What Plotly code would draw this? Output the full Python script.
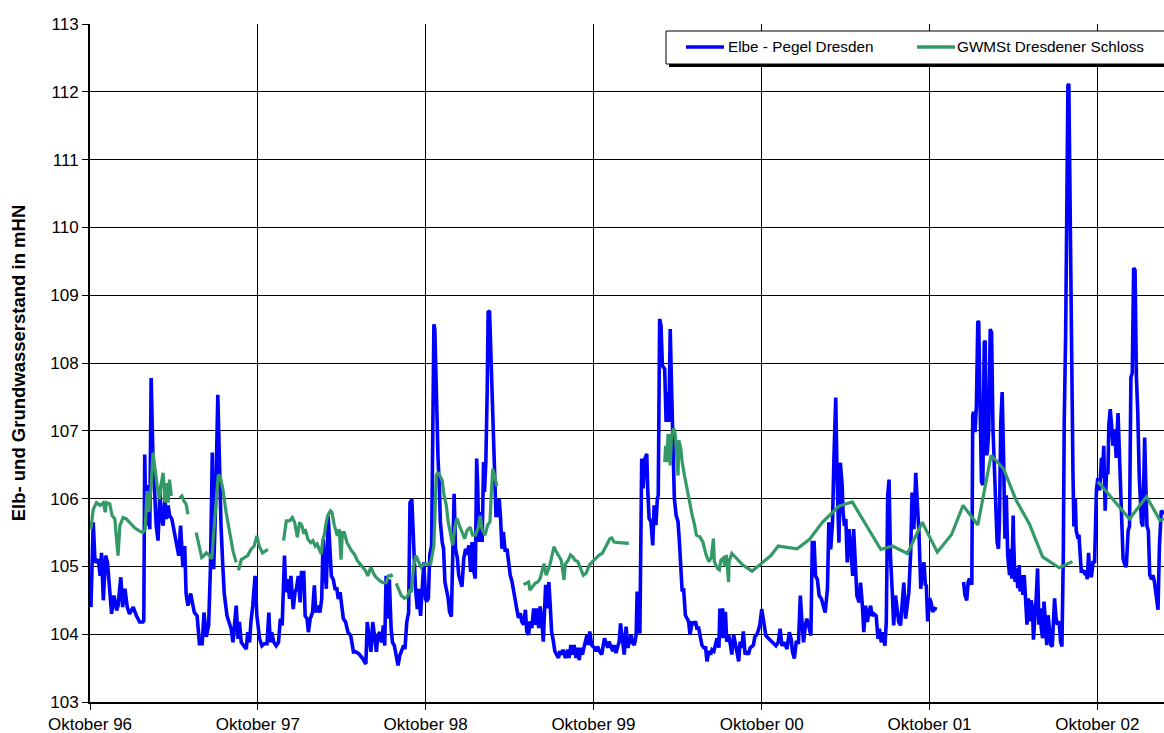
import plotly.graph_objects as go

# ---------------- text ----------------
series_names = ["Elbe - Pegel Dresden", "GWMSt Dresdener Schloss"]
series_colors = ["#0000FF", "#339966"]
y_title = "Elb- und Grundwasserstand in mHN"
x_tick_dates = ["1996-10-01", "1997-10-01", "1998-10-01", "1999-10-01",
                "2000-10-01", "2001-10-01", "2002-10-01"]
x_tick_labels = ["Oktober 96", "Oktober 97", "Oktober 98", "Oktober 99",
                 "Oktober 00", "Oktober 01", "Oktober 02"]
y_ticks = [103, 104, 105, 106, 107, 108, 109, 110, 111, 112, 113]
x_range = ["1996-10-01", "2003-02-23"]
y_range = [103, 113]

# ---------------- Elbe - Pegel Dresden (date, m HN) ----------------
elbe_1996_97 = [
    ("1996-10-03", 104.40), ("1996-10-08", 105.65), ("1996-10-12", 105.06), ("1996-10-19", 105.10),
    ("1996-10-23", 104.86), ("1996-10-26", 105.20), ("1996-10-30", 104.50), ("1996-11-04", 105.16),
    ("1996-11-08", 105.06), ("1996-11-13", 104.67), ("1996-11-17", 104.30), ("1996-11-22", 104.57),
    ("1996-11-28", 104.35), ("1996-12-01", 104.42), ("1996-12-07", 104.84), ("1996-12-11", 104.40),
    ("1996-12-16", 104.67), ("1996-12-21", 104.40), ("1996-12-26", 104.30), ("1997-01-03", 104.40),
    ("1997-01-10", 104.27), ("1997-01-17", 104.18), ("1997-01-24", 104.18), ("1997-01-26", 104.20),
    ("1997-01-28", 106.65), ("1997-01-31", 105.60), ("1997-02-04", 106.20), ("1997-02-08", 105.55),
    ("1997-02-11", 107.78), ("1997-02-15", 106.60), ("1997-02-19", 106.00), ("1997-02-22", 105.60),
    ("1997-02-26", 105.38), ("1997-03-02", 106.10), ("1997-03-05", 105.75), ("1997-03-09", 105.60),
    ("1997-03-13", 106.00), ("1997-03-16", 105.70), ("1997-03-20", 105.90), ("1997-03-23", 105.75),
    ("1997-03-28", 105.70), ("1997-04-02", 105.50), ("1997-04-07", 105.30), ("1997-04-12", 105.16),
    ("1997-04-16", 105.60), ("1997-04-21", 104.99), ("1997-04-25", 105.30), ("1997-04-28", 104.60),
    ("1997-05-02", 104.42), ("1997-05-08", 104.60), ("1997-05-13", 104.42), ("1997-05-16", 104.32),
    ("1997-05-22", 104.27), ("1997-05-27", 103.86), ("1997-06-02", 103.86), ("1997-06-06", 104.32),
    ("1997-06-11", 103.96), ("1997-06-16", 104.13), ("1997-06-20", 104.99), ("1997-06-24", 106.68),
    ("1997-06-27", 104.96), ("1997-07-01", 105.84), ("1997-07-06", 107.53), ("1997-07-09", 106.60),
    ("1997-07-13", 105.60), ("1997-07-17", 104.99), ("1997-07-20", 104.60), ("1997-07-26", 104.27),
    ("1997-08-01", 104.13), ("1997-08-04", 104.08), ("1997-08-08", 103.88), ("1997-08-12", 104.13),
    ("1997-08-15", 104.42), ("1997-08-19", 103.93), ("1997-08-22", 104.18), ("1997-08-26", 103.88),
    ("1997-09-01", 103.83), ("1997-09-06", 103.78), ("1997-09-09", 104.03), ("1997-09-13", 103.88),
    ("1997-09-16", 104.18), ("1997-09-20", 104.42), ("1997-09-25", 104.86), ("1997-09-29", 104.27),
]
elbe_1997_98 = [
    ("1997-10-05", 103.93), ("1997-10-10", 103.83), ("1997-10-15", 103.86), ("1997-10-21", 103.86),
    ("1997-10-25", 104.32), ("1997-10-28", 103.88), ("1997-10-31", 104.03), ("1997-11-05", 103.88),
    ("1997-11-10", 103.83), ("1997-11-15", 103.88), ("1997-11-19", 104.23), ("1997-11-23", 104.13),
    ("1997-11-28", 105.16), ("1997-12-01", 104.62), ("1997-12-05", 104.81), ("1997-12-09", 104.52),
    ("1997-12-12", 104.86), ("1997-12-17", 104.37), ("1997-12-21", 104.62), ("1997-12-24", 104.67),
    ("1997-12-28", 104.86), ("1998-01-01", 104.47), ("1998-01-04", 104.91), ("1998-01-09", 104.91),
    ("1998-01-12", 104.27), ("1998-01-16", 104.23), ("1998-01-19", 104.03), ("1998-01-23", 104.23),
    ("1998-01-28", 104.32), ("1998-02-01", 104.72), ("1998-02-04", 104.32), ("1998-02-08", 104.42),
    ("1998-02-13", 104.32), ("1998-02-17", 104.52), ("1998-02-20", 105.40), ("1998-02-24", 104.91),
    ("1998-02-27", 104.67), ("1998-03-03", 105.75), ("1998-03-07", 105.30), ("1998-03-10", 104.86),
    ("1998-03-14", 104.81), ("1998-03-18", 104.67), ("1998-03-22", 104.67), ("1998-03-25", 104.52),
    ("1998-03-29", 104.62), ("1998-04-02", 104.40), ("1998-04-05", 104.23), ("1998-04-10", 104.18),
    ("1998-04-15", 104.03), ("1998-04-21", 103.98), ("1998-04-27", 103.74), ("1998-05-02", 103.74),
    ("1998-05-09", 103.71), ("1998-05-17", 103.64), ("1998-05-24", 103.56), ("1998-05-27", 104.18),
    ("1998-05-31", 103.98), ("1998-06-04", 103.74), ("1998-06-08", 104.18), ("1998-06-12", 103.98),
    ("1998-06-16", 103.74), ("1998-06-19", 103.98), ("1998-06-23", 104.03), ("1998-06-27", 103.88),
    ("1998-07-01", 104.13), ("1998-07-04", 103.83), ("1998-07-07", 104.86), ("1998-07-11", 104.23),
    ("1998-07-14", 104.81), ("1998-07-18", 104.08), ("1998-07-21", 103.88), ("1998-07-25", 103.83),
    ("1998-07-28", 103.69), ("1998-08-02", 103.54), ("1998-08-06", 103.69), ("1998-08-10", 103.78),
    ("1998-08-14", 103.83), ("1998-08-17", 103.78), ("1998-08-21", 104.18), ("1998-08-25", 104.32),
    ("1998-08-28", 105.94), ("1998-09-01", 105.99), ("1998-09-04", 105.35), ("1998-09-09", 104.67),
    ("1998-09-13", 104.37), ("1998-09-16", 104.67), ("1998-09-20", 104.27), ("1998-09-23", 104.67),
    ("1998-09-27", 105.06), ("1998-10-01", 104.52),
]
elbe_1998_99 = [
    ("1998-10-03", 104.48), ("1998-10-07", 104.53), ("1998-10-10", 105.17), ("1998-10-14", 105.31),
    ("1998-10-17", 108.35), ("1998-10-19", 108.57), ("1998-10-21", 108.50), ("1998-10-24", 107.37),
    ("1998-10-26", 106.69), ("1998-10-28", 106.59), ("1998-10-31", 106.15), ("1998-11-02", 105.66),
    ("1998-11-06", 105.36), ("1998-11-09", 105.26), ("1998-11-12", 104.77), ("1998-11-15", 104.68),
    ("1998-11-19", 104.53), ("1998-11-22", 104.33), ("1998-11-26", 104.26), ("1998-11-29", 105.17),
    ("1998-12-02", 106.07), ("1998-12-05", 105.26), ("1998-12-09", 105.12), ("1998-12-12", 104.87),
    ("1998-12-16", 104.77), ("1998-12-19", 104.70), ("1998-12-23", 105.12), ("1998-12-27", 105.26),
    ("1998-12-30", 105.17), ("1999-01-03", 105.31), ("1999-01-07", 104.92), ("1999-01-10", 105.36),
    ("1999-01-14", 104.92), ("1999-01-17", 104.82), ("1999-01-20", 106.59), ("1999-01-22", 106.25),
    ("1999-01-25", 105.36), ("1999-01-28", 105.80), ("1999-02-01", 105.36), ("1999-02-04", 106.54),
    ("1999-02-06", 106.10), ("1999-02-09", 106.54), ("1999-02-12", 107.62), ("1999-02-14", 108.75),
    ("1999-02-17", 108.77), ("1999-02-20", 108.11), ("1999-02-24", 107.23), ("1999-02-27", 106.54),
    ("1999-03-03", 105.75), ("1999-03-07", 105.75), ("1999-03-10", 106.00), ("1999-03-13", 105.71),
    ("1999-03-16", 105.26), ("1999-03-19", 105.51), ("1999-03-23", 105.22), ("1999-03-27", 105.26),
    ("1999-03-30", 105.07), ("1999-04-03", 104.87), ("1999-04-07", 104.77), ("1999-04-10", 104.68),
    ("1999-04-14", 104.50), ("1999-04-17", 104.38), ("1999-04-21", 104.24), ("1999-04-25", 104.31),
    ("1999-04-28", 104.19), ("1999-05-02", 104.14), ("1999-05-06", 104.36), ("1999-05-09", 104.04),
    ("1999-05-13", 103.99), ("1999-05-16", 104.19), ("1999-05-20", 104.09), ("1999-05-24", 104.38),
    ("1999-05-27", 104.14), ("1999-05-31", 104.38), ("1999-06-04", 104.09), ("1999-06-07", 104.41),
    ("1999-06-11", 104.19), ("1999-06-14", 103.89), ("1999-06-16", 104.14), ("1999-06-19", 104.73),
    ("1999-06-23", 104.38), ("1999-06-26", 104.77), ("1999-06-29", 104.43), ("1999-07-02", 104.04),
    ("1999-07-06", 103.89), ("1999-07-09", 103.75), ("1999-07-13", 103.70), ("1999-07-17", 103.65),
    ("1999-07-20", 103.75), ("1999-07-24", 103.70), ("1999-07-27", 103.77), ("1999-08-01", 103.65),
    ("1999-08-06", 103.77), ("1999-08-09", 103.65), ("1999-08-13", 103.84), ("1999-08-16", 103.70),
    ("1999-08-20", 103.84), ("1999-08-24", 103.65), ("1999-08-27", 103.80), ("1999-08-31", 103.62),
    ("1999-09-04", 103.80), ("1999-09-07", 103.70), ("1999-09-11", 103.82), ("1999-09-14", 103.89),
    ("1999-09-17", 103.99), ("1999-09-20", 103.84), ("1999-09-23", 104.04), ("1999-09-27", 103.84),
]
elbe_1999_00 = [
    ("1999-10-03", 103.80), ("1999-10-07", 103.75), ("1999-10-10", 103.82), ("1999-10-14", 103.75),
    ("1999-10-19", 103.70), ("1999-10-25", 103.94), ("1999-10-28", 103.87), ("1999-11-01", 103.80),
    ("1999-11-04", 103.89), ("1999-11-08", 103.82), ("1999-11-12", 103.75), ("1999-11-15", 103.84),
    ("1999-11-19", 103.72), ("1999-11-22", 103.80), ("1999-11-26", 103.89), ("1999-11-29", 104.16),
    ("1999-12-04", 103.80), ("1999-12-07", 103.70), ("1999-12-11", 104.11), ("1999-12-15", 103.80),
    ("1999-12-18", 103.89), ("1999-12-22", 103.99), ("1999-12-25", 103.87), ("1999-12-29", 103.84),
    ("2000-01-02", 103.99), ("2000-01-04", 104.63), ("2000-01-07", 104.28), ("2000-01-10", 104.01),
    ("2000-01-14", 106.59), ("2000-01-17", 106.15), ("2000-01-21", 106.59), ("2000-01-25", 106.66),
    ("2000-01-27", 106.15), ("2000-01-30", 105.71), ("2000-02-03", 105.66), ("2000-02-07", 105.31),
    ("2000-02-10", 105.90), ("2000-02-14", 105.61), ("2000-02-17", 106.00), ("2000-02-19", 106.05),
    ("2000-02-22", 108.65), ("2000-02-25", 108.55), ("2000-02-28", 107.96), ("2000-03-04", 107.91),
    ("2000-03-07", 107.13), ("2000-03-11", 107.57), ("2000-03-13", 107.13), ("2000-03-16", 108.50),
    ("2000-03-19", 107.62), ("2000-03-22", 106.64), ("2000-03-25", 106.00), ("2000-03-29", 105.75),
    ("2000-04-02", 105.66), ("2000-04-05", 105.36), ("2000-04-09", 104.92), ("2000-04-11", 104.63),
    ("2000-04-14", 104.68), ("2000-04-18", 104.28), ("2000-04-21", 104.24), ("2000-04-25", 104.19),
    ("2000-04-28", 103.99), ("2000-05-03", 104.19), ("2000-05-06", 104.14), ("2000-05-10", 104.19),
    ("2000-05-13", 104.09), ("2000-05-17", 104.09), ("2000-05-21", 103.94), ("2000-05-24", 103.84),
    ("2000-05-28", 103.80), ("2000-06-01", 103.80), ("2000-06-04", 103.60), ("2000-06-08", 103.75),
    ("2000-06-12", 103.70), ("2000-06-15", 103.77), ("2000-06-19", 103.75), ("2000-06-22", 103.84),
    ("2000-06-26", 103.94), ("2000-06-30", 103.80), ("2000-07-02", 104.38), ("2000-07-05", 103.94),
    ("2000-07-08", 104.38), ("2000-07-11", 103.94), ("2000-07-14", 104.33), ("2000-07-17", 103.89),
    ("2000-07-21", 103.99), ("2000-07-25", 103.84), ("2000-07-28", 103.70), ("2000-08-01", 103.99),
    ("2000-08-04", 103.89), ("2000-08-08", 103.70), ("2000-08-12", 103.60), ("2000-08-15", 103.89),
    ("2000-08-19", 103.80), ("2000-08-22", 104.04), ("2000-08-26", 103.70), ("2000-08-29", 103.75),
    ("2000-09-02", 103.70), ("2000-09-06", 103.80), ("2000-09-09", 103.82), ("2000-09-13", 103.84),
    ("2000-09-16", 103.96), ("2000-09-20", 103.99), ("2000-09-23", 104.04), ("2000-09-27", 104.14),
]
elbe_2000_01 = [
    ("2000-10-01", 104.37), ("2000-10-05", 104.18), ("2000-10-10", 103.98), ("2000-10-17", 103.93),
    ("2000-10-24", 103.88), ("2000-11-01", 103.83), ("2000-11-06", 103.88), ("2000-11-10", 104.08),
    ("2000-11-14", 103.83), ("2000-11-19", 103.88), ("2000-11-25", 103.78), ("2000-11-30", 104.03),
    ("2000-12-04", 103.93), ("2000-12-07", 103.74), ("2000-12-11", 103.64), ("2000-12-15", 103.88),
    ("2000-12-20", 103.88), ("2000-12-24", 104.57), ("2000-12-28", 104.13), ("2000-12-31", 103.88),
    ("2001-01-04", 104.13), ("2001-01-07", 104.23), ("2001-01-11", 104.13), ("2001-01-16", 103.98),
    ("2001-01-19", 105.35), ("2001-01-23", 105.35), ("2001-01-26", 104.86), ("2001-01-30", 104.81),
    ("2001-02-03", 104.57), ("2001-02-08", 104.52), ("2001-02-12", 104.42), ("2001-02-16", 104.32),
    ("2001-02-21", 104.67), ("2001-02-24", 105.65), ("2001-02-28", 105.25), ("2001-03-04", 105.65),
    ("2001-03-07", 106.58), ("2001-03-11", 107.49), ("2001-03-14", 106.28), ("2001-03-18", 105.35),
    ("2001-03-21", 106.53), ("2001-03-25", 106.19), ("2001-03-27", 105.79), ("2001-03-30", 105.60),
    ("2001-04-02", 105.70), ("2001-04-05", 105.06), ("2001-04-09", 105.55), ("2001-04-12", 105.25),
    ("2001-04-17", 104.86), ("2001-04-19", 105.55), ("2001-04-23", 105.01), ("2001-04-26", 104.57),
    ("2001-05-01", 104.47), ("2001-05-04", 104.76), ("2001-05-08", 104.42), ("2001-05-11", 104.03),
    ("2001-05-15", 104.42), ("2001-05-19", 104.18), ("2001-05-22", 104.32), ("2001-05-26", 104.42),
    ("2001-05-29", 104.27), ("2001-06-02", 104.30), ("2001-06-07", 104.27), ("2001-06-11", 103.93),
    ("2001-06-14", 104.08), ("2001-06-18", 103.88), ("2001-06-22", 104.03), ("2001-06-26", 103.83),
    ("2001-06-29", 104.18), ("2001-07-02", 106.04), ("2001-07-05", 106.28), ("2001-07-08", 105.16),
    ("2001-07-12", 104.62), ("2001-07-15", 104.13), ("2001-07-19", 104.57), ("2001-07-22", 104.37),
    ("2001-07-26", 104.18), ("2001-07-30", 104.13), ("2001-08-03", 104.57), ("2001-08-06", 104.76),
    ("2001-08-10", 104.23), ("2001-08-13", 104.42), ("2001-08-17", 104.62), ("2001-08-21", 105.20),
    ("2001-08-24", 106.09), ("2001-08-28", 105.55), ("2001-09-01", 106.38), ("2001-09-04", 105.99),
    ("2001-09-08", 105.50), ("2001-09-12", 104.67), ("2001-09-15", 104.91), ("2001-09-19", 105.06),
    ("2001-09-22", 104.72), ("2001-09-24", 104.73), ("2001-09-27", 104.19), ("2001-10-01", 104.53),
    ("2001-10-04", 104.48), ("2001-10-08", 104.33), ("2001-10-12", 104.38), ("2001-10-17", 104.37),
]
elbe_2001_02 = [
    ("2001-12-14", 104.77), ("2001-12-17", 104.58), ("2001-12-21", 104.50), ("2001-12-24", 104.77),
    ("2001-12-27", 104.82), ("2002-01-01", 104.73), ("2002-01-03", 107.23), ("2002-01-05", 107.28),
    ("2002-01-08", 106.98), ("2002-01-11", 107.37), ("2002-01-14", 108.62), ("2002-01-16", 108.60),
    ("2002-01-19", 107.37), ("2002-01-22", 106.25), ("2002-01-25", 106.20), ("2002-01-28", 108.30),
    ("2002-01-30", 108.33), ("2002-02-02", 106.64), ("2002-02-04", 106.69), ("2002-02-07", 107.03),
    ("2002-02-10", 108.50), ("2002-02-13", 108.45), ("2002-02-16", 107.03), ("2002-02-19", 106.34),
    ("2002-02-22", 105.61), ("2002-02-25", 105.36), ("2002-02-28", 105.26), ("2002-03-02", 105.66),
    ("2002-03-05", 107.13), ("2002-03-08", 107.57), ("2002-03-11", 106.64), ("2002-03-14", 105.41),
    ("2002-03-17", 106.05), ("2002-03-20", 105.17), ("2002-03-24", 104.87), ("2002-03-26", 105.26),
    ("2002-03-29", 104.82), ("2002-04-01", 105.75), ("2002-04-02", 105.36), ("2002-04-05", 104.77),
    ("2002-04-08", 104.97), ("2002-04-11", 104.68), ("2002-04-14", 105.02), ("2002-04-16", 104.63),
    ("2002-04-19", 104.87), ("2002-04-22", 104.58), ("2002-04-25", 104.87), ("2002-04-28", 104.38),
    ("2002-05-01", 104.14), ("2002-05-04", 104.53), ("2002-05-07", 104.19), ("2002-05-10", 104.50),
    ("2002-05-13", 104.38), ("2002-05-15", 103.92), ("2002-05-18", 104.19), ("2002-05-21", 104.53),
    ("2002-05-24", 104.97), ("2002-05-27", 104.14), ("2002-05-30", 104.38), ("2002-06-01", 104.09),
    ("2002-06-04", 103.94), ("2002-06-07", 104.48), ("2002-06-10", 104.19), ("2002-06-13", 103.84),
    ("2002-06-16", 104.28), ("2002-06-19", 104.04), ("2002-06-22", 103.84), ("2002-06-25", 103.82),
    ("2002-06-28", 104.38), ("2002-06-30", 104.53), ("2002-07-03", 104.24), ("2002-07-06", 104.14),
    ("2002-07-10", 104.19), ("2002-07-13", 103.89), ("2002-07-16", 103.82), ("2002-07-19", 105.17),
    ("2002-07-21", 107.13), ("2002-07-24", 108.40), ("2002-07-27", 110.54), ("2002-07-29", 112.09),
    ("2002-07-31", 112.12), ("2002-08-03", 109.94), ("2002-08-05", 108.15), ("2002-08-07", 106.48),
    ("2002-08-09", 106.36), ("2002-08-11", 105.59), ("2002-08-14", 106.00), ("2002-08-16", 105.53),
    ("2002-08-20", 105.41), ("2002-08-22", 105.47), ("2002-08-25", 105.17), ("2002-08-27", 104.93),
    ("2002-08-31", 104.93), ("2002-09-03", 104.90), ("2002-09-07", 104.93), ("2002-09-09", 104.81),
    ("2002-09-12", 105.20), ("2002-09-14", 104.93), ("2002-09-18", 104.84), ("2002-09-22", 105.08),
    ("2002-09-25", 105.05), ("2002-09-29", 106.12), ("2002-10-02", 106.30), ("2002-10-06", 106.12),
    ("2002-10-10", 106.60), ("2002-10-12", 106.30), ("2002-10-15", 106.78), ("2002-10-18", 105.82),
    ("2002-10-21", 106.42), ("2002-10-24", 106.36), ("2002-10-26", 107.08), ("2002-10-29", 107.32),
    ("2002-11-01", 107.08), ("2002-11-04", 106.78), ("2002-11-08", 107.02), ("2002-11-11", 106.60),
    ("2002-11-15", 107.26), ("2002-11-17", 106.90), ("2002-11-20", 106.12), ("2002-11-23", 105.59),
    ("2002-11-26", 105.11), ("2002-11-30", 105.02), ("2002-12-03", 104.99), ("2002-12-07", 105.53),
    ("2002-12-10", 105.59), ("2002-12-13", 107.79), ("2002-12-16", 107.85), ("2002-12-19", 109.40),
    ("2002-12-22", 109.37), ("2002-12-25", 107.79), ("2002-12-28", 107.26), ("2002-12-31", 106.36),
    ("2003-01-03", 105.77), ("2003-01-05", 105.65), ("2003-01-08", 105.59), ("2003-01-12", 106.90),
    ("2003-01-14", 106.30), ("2003-01-17", 105.59), ("2003-01-20", 105.53), ("2003-01-23", 104.87),
    ("2003-01-27", 104.81), ("2003-01-30", 104.87), ("2003-02-02", 104.78), ("2003-02-06", 104.57),
    ("2003-02-10", 104.36), ("2003-02-13", 105.29), ("2003-02-17", 105.82), ("2003-02-20", 105.80),
    ("2003-02-23", 105.77),
]

# ---------------- GWMSt Dresdener Schloss (date, m HN) ----------------
gw_1996_97a = [
    ("1996-10-03", 105.55), ("1996-10-08", 105.84), ("1996-10-15", 105.94), ("1996-10-23", 105.90),
    ("1996-10-30", 105.94), ("1996-11-03", 105.80), ("1996-11-06", 105.94), ("1996-11-13", 105.92),
    ("1996-11-18", 105.75), ("1996-11-24", 105.70), ("1996-11-29", 105.30), ("1996-12-01", 105.16),
    ("1996-12-05", 105.60), ("1996-12-12", 105.72), ("1996-12-19", 105.70), ("1996-12-26", 105.65),
    ("1997-01-06", 105.57), ("1997-01-17", 105.52), ("1997-01-24", 105.50), ("1997-01-29", 105.55),
    ("1997-02-02", 106.11), ("1997-02-06", 105.80), ("1997-02-11", 106.20), ("1997-02-15", 106.68),
    ("1997-02-20", 106.38), ("1997-02-24", 106.19), ("1997-03-01", 105.99), ("1997-03-04", 106.19),
    ("1997-03-09", 106.38), ("1997-03-13", 105.94), ("1997-03-16", 106.23), ("1997-03-20", 105.94),
    ("1997-03-23", 106.28), ("1997-03-27", 106.04),
]
gw_1996_97b = [
    ("1997-04-14", 106.01), ("1997-04-19", 106.04), ("1997-04-23", 105.97), ("1997-04-28", 105.92),
    ("1997-05-02", 105.77),
]
gw_1996_97c = [
    ("1997-05-20", 105.50), ("1997-05-25", 105.33), ("1997-06-01", 105.13), ("1997-06-06", 105.16),
    ("1997-06-11", 105.20), ("1997-06-18", 105.16), ("1997-06-23", 105.11), ("1997-06-27", 105.50),
    ("1997-07-02", 105.94), ("1997-07-07", 106.35), ("1997-07-11", 106.33), ("1997-07-17", 106.14),
    ("1997-07-24", 105.80), ("1997-08-01", 105.50), ("1997-08-08", 105.23), ("1997-08-15", 105.06),
]
gw_1996_97d = [
    ("1997-08-20", 104.94), ("1997-08-26", 105.10), ("1997-09-02", 105.13), ("1997-09-09", 105.16),
    ("1997-09-16", 105.25), ("1997-09-23", 105.30), ("1997-09-29", 105.45), ("1997-10-04", 105.30),
    ("1997-10-11", 105.20), ("1997-10-15", 105.22), ("1997-10-23", 105.25),
]
gw_1997_98 = [
    ("1997-11-26", 105.38), ("1997-12-02", 105.67), ("1997-12-09", 105.67), ("1997-12-15", 105.72),
    ("1997-12-20", 105.65), ("1997-12-26", 105.43), ("1997-12-31", 105.65), ("1998-01-05", 105.60),
    ("1998-01-09", 105.48), ("1998-01-12", 105.55), ("1998-01-18", 105.40), ("1998-01-24", 105.35),
    ("1998-01-29", 105.38), ("1998-02-03", 105.30), ("1998-02-07", 105.33), ("1998-02-11", 105.25),
    ("1998-02-16", 105.18), ("1998-02-19", 105.38), ("1998-02-23", 105.48), ("1998-02-26", 105.62),
    ("1998-03-02", 105.75), ("1998-03-08", 105.82), ("1998-03-11", 105.80), ("1998-03-16", 105.62),
    ("1998-03-20", 105.52), ("1998-03-23", 105.45), ("1998-03-27", 105.55), ("1998-03-31", 105.10),
    ("1998-04-03", 105.50), ("1998-04-07", 105.50), ("1998-04-13", 105.35), ("1998-04-18", 105.28),
    ("1998-04-23", 105.23), ("1998-04-29", 105.18), ("1998-05-06", 105.08), ("1998-05-12", 105.03),
    ("1998-05-17", 104.99), ("1998-05-23", 104.94), ("1998-05-28", 104.86), ("1998-06-01", 104.94),
    ("1998-06-04", 104.99), ("1998-06-10", 104.89), ("1998-06-15", 104.84), ("1998-06-23", 104.79),
    ("1998-06-30", 104.76), ("1998-07-07", 104.76), ("1998-07-12", 104.86), ("1998-07-18", 104.87),
    ("1998-07-20", 104.84),
]
gw_1998_99a = [
    ("1998-07-29", 104.75), ("1998-08-03", 104.67), ("1998-08-09", 104.57), ("1998-08-16", 104.53),
    ("1998-08-22", 104.55), ("1998-08-27", 104.64), ("1998-08-31", 104.62), ("1998-09-05", 105.01),
    ("1998-09-10", 105.16), ("1998-09-15", 105.08), ("1998-09-21", 104.99), ("1998-09-27", 105.03),
    ("1998-10-05", 105.03), ("1998-10-12", 105.04), ("1998-10-19", 105.31), ("1998-10-24", 106.34),
    ("1998-10-28", 106.39), ("1998-11-03", 106.29), ("1998-11-06", 106.27), ("1998-11-10", 106.05),
    ("1998-11-15", 105.90), ("1998-11-19", 105.66), ("1998-11-24", 105.46), ("1998-11-29", 105.31),
    ("1998-12-03", 105.56), ("1998-12-08", 105.71), ("1998-12-13", 105.61), ("1998-12-19", 105.51),
    ("1998-12-25", 105.41), ("1998-12-30", 105.53), ("1999-01-06", 105.58), ("1999-01-11", 105.46),
    ("1999-01-17", 105.46), ("1999-01-23", 105.56), ("1999-01-28", 105.75), ("1999-01-31", 105.56),
    ("1999-02-07", 105.46), ("1999-02-13", 105.61), ("1999-02-18", 105.66), ("1999-02-21", 106.10),
    ("1999-02-24", 106.44), ("1999-02-28", 106.34), ("1999-03-03", 106.20), ("1999-03-05", 106.18),
]
gw_1998_99b = [
    ("1999-05-02", 104.73), ("1999-05-07", 104.75), ("1999-05-13", 104.77), ("1999-05-16", 104.65),
    ("1999-05-21", 104.70), ("1999-05-27", 104.75), ("1999-06-02", 104.77), ("1999-06-07", 104.82),
    ("1999-06-12", 104.95), ("1999-06-16", 105.04), ("1999-06-20", 104.87), ("1999-06-25", 104.95),
    ("1999-06-30", 105.07), ("1999-07-04", 105.22), ("1999-07-07", 105.29), ("1999-07-12", 105.22),
    ("1999-07-17", 105.17), ("1999-07-23", 105.09), ("1999-07-29", 104.80), ("1999-08-01", 105.04),
    ("1999-08-07", 105.09), ("1999-08-12", 105.17), ("1999-08-17", 105.14), ("1999-08-22", 105.09),
    ("1999-08-28", 105.07), ("1999-09-03", 104.97), ("1999-09-09", 104.87), ("1999-09-15", 104.90),
    ("1999-09-22", 105.02), ("1999-09-29", 105.07), ("1999-10-07", 105.12), ("1999-10-14", 105.17),
    ("1999-10-20", 105.19), ("1999-10-25", 105.26), ("1999-11-01", 105.34), ("1999-11-06", 105.41),
    ("1999-11-10", 105.42), ("1999-11-15", 105.36), ("1999-11-26", 105.35), ("1999-12-07", 105.35),
    ("1999-12-17", 105.34),
]
gw_2000_02 = [
    ("2000-03-04", 106.54), ("2000-03-06", 106.78), ("2000-03-09", 106.54), ("2000-03-11", 106.93),
    ("2000-03-15", 106.93), ("2000-03-16", 106.49), ("2000-03-19", 106.93), ("2000-03-23", 107.03),
    ("2000-03-26", 107.00), ("2000-03-29", 106.78), ("2000-04-02", 106.34), ("2000-04-04", 106.86),
    ("2000-04-08", 106.74), ("2000-04-11", 106.54), ("2000-04-16", 106.34), ("2000-04-21", 106.15),
    ("2000-04-27", 105.95), ("2000-05-03", 105.75), ("2000-05-08", 105.61), ("2000-05-12", 105.46),
    ("2000-05-19", 105.44), ("2000-05-26", 105.36), ("2000-06-02", 105.17), ("2000-06-08", 105.07),
    ("2000-06-13", 105.12), ("2000-06-18", 105.41), ("2000-06-20", 105.07), ("2000-06-27", 104.97),
    ("2000-07-01", 104.95), ("2000-07-04", 105.09), ("2000-07-09", 105.12), ("2000-07-13", 105.00),
    ("2000-07-16", 105.17), ("2000-07-21", 104.77), ("2000-07-22", 105.07), ("2000-07-28", 105.19),
    ("2000-08-07", 105.12), ("2000-08-21", 105.02), ("2000-09-10", 104.93), ("2000-10-21", 105.16),
    ("2000-11-06", 105.30), ("2000-12-17", 105.26), ("2001-01-13", 105.40), ("2001-02-10", 105.65),
    ("2001-03-18", 105.89), ("2001-04-16", 105.95), ("2001-06-17", 105.25), ("2001-07-12", 105.30),
    ("2001-08-14", 105.19), ("2001-09-15", 105.65), ("2001-10-18", 105.21), ("2001-11-18", 105.47),
    ("2001-12-13", 105.90), ("2002-01-14", 105.61), ("2002-02-12", 106.64), ("2002-03-11", 106.44),
    ("2002-04-07", 105.98), ("2002-05-06", 105.63), ("2002-06-04", 105.14), ("2002-07-10", 104.98),
    ("2002-08-08", 105.07),
]
gw_2002_03 = [
    ("2002-10-02", 106.25), ("2002-10-10", 106.19), ("2002-12-10", 105.70), ("2003-01-16", 106.03),
    ("2003-02-14", 105.68), ("2003-02-23", 105.70),
]

elbe_segments = [elbe_1996_97 + elbe_1997_98 + elbe_1998_99 + elbe_1999_00 + elbe_2000_01,
                 elbe_2001_02]
gw_segments = [gw_1996_97a, gw_1996_97b, gw_1996_97c, gw_1996_97d, gw_1997_98,
               gw_1998_99a, gw_1998_99b, gw_2000_02, gw_2002_03]


def join(segments):
    xs, ys = [], []
    for k, seg in enumerate(segments):
        if k:
            xs.append(seg[0][0])
            ys.append(None)  # gap in the record
        xs += [d for d, v in seg]
        ys += [v for d, v in seg]
    return xs, ys


# ---------------- figure ----------------
W, H = 1164, 733
L, R, T, B = 90, 0, 24, 31
fig = go.Figure()
for name, color, segs, lw in [(series_names[0], series_colors[0], elbe_segments, 3.6),
                              (series_names[1], series_colors[1], gw_segments, 3.2)]:
    xs, ys = join(segs)
    fig.add_trace(go.Scatter(x=xs, y=ys, mode="lines", name=name, connectgaps=False,
                             line=dict(color=color, width=lw), showlegend=False))

fig.update_layout(
    width=W, height=H,
    margin=dict(l=L, r=R, t=T, b=B, autoexpand=False),
    paper_bgcolor="white", plot_bgcolor="white",
    font=dict(family="Liberation Sans, Arial, sans-serif", size=17, color="black"),
    showlegend=False,
)
fig.update_xaxes(
    type="date", range=x_range, tickmode="array", tickvals=x_tick_dates, ticktext=x_tick_labels,
    showgrid=True, gridcolor="black", gridwidth=1,
    showline=True, linecolor="black", linewidth=2,
    ticks="outside", ticklen=6, tickcolor="black", tickwidth=1,
    tickfont=dict(size=17), zeroline=False, automargin=False,
)
fig.update_yaxes(
    range=y_range, tickmode="array", tickvals=y_ticks,
    showgrid=True, gridcolor="black", gridwidth=1,
    showline=True, linecolor="black", linewidth=2,
    ticks="outside", ticklen=6, tickcolor="black", tickwidth=1,
    tickfont=dict(size=17), zeroline=False, automargin=False,
    title=dict(text="<b>" + y_title + "</b>", font=dict(size=18.5), standoff=20),
)

# ---- custom legend (box with shadow, line samples and labels), page pixels ----
pw, ph = W - L - R, H - T - B
px = lambda v: (v - L) / pw
py = lambda v: (H - B - v) / ph
shapes = [
    dict(type="rect", xref="paper", yref="paper", x0=px(669), x1=px(1200), y0=py(67), y1=py(34),
         fillcolor="black", line=dict(width=0), layer="above"),
    dict(type="rect", xref="paper", yref="paper", x0=px(666), x1=px(1200), y0=py(64), y1=py(31),
         fillcolor="white", line=dict(color="black", width=1), layer="above"),
    dict(type="line", xref="paper", yref="paper", x0=px(686), x1=px(724), y0=py(47), y1=py(47),
         line=dict(color=series_colors[0], width=3.5), layer="above"),
    dict(type="line", xref="paper", yref="paper", x0=px(917), x1=px(955), y0=py(47), y1=py(47),
         line=dict(color=series_colors[1], width=3.5), layer="above"),
]
annotations = [
    dict(xref="paper", yref="paper", x=px(726), y=py(47), text=series_names[0], showarrow=False,
         xanchor="left", yanchor="middle", font=dict(size=15.3)),
    dict(xref="paper", yref="paper", x=px(955), y=py(47), text=series_names[1], showarrow=False,
         xanchor="left", yanchor="middle", font=dict(size=15.3)),
]
fig.update_layout(shapes=shapes, annotations=annotations)

# remove the default 8 px page margin so the figure sits at the window's corner
fig.write_html("out.html", config={"displayModeBar": False},
               post_script="document.body.style.margin='0';document.body.style.overflow='hidden';")
